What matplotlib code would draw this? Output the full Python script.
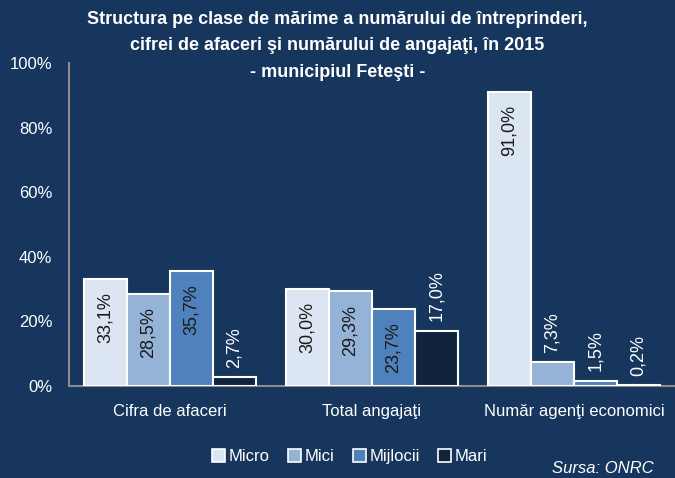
import matplotlib.pyplot as plt
import numpy as np
from matplotlib.patches import Patch

categories = ["Cifra de afaceri", "Total angajaţi", "Număr agenţi economici"]
series = ["Micro", "Mici", "Mijlocii", "Mari"]
micro = [33.1, 30.0, 91.0]
mici = [28.5, 29.3, 7.3]
mijlocii = [35.7, 23.7, 1.5]
mari = [2.7, 17.0, 0.2]
yticks = [0, 20, 40, 60, 80, 100]

values = [micro, mici, mijlocii, mari]
colors = ["#dce6f2", "#95b3d7", "#4f81bd", "#10243e"]
bg = "#17365d"
axis_grey = "#8c8c8c"
font = "Liberation Sans"

fig = plt.figure(figsize=(6.75, 4.78), dpi=100, facecolor=bg)
ax = fig.add_axes([69 / 675, 92 / 478, 606 / 675, 323 / 478], facecolor=bg)

x = np.arange(len(categories))
width = 0.213
for i, (vals, color) in enumerate(zip(values, colors)):
    xs = x + (i - 1.5) * width
    ax.bar(xs, vals, width, color=color, edgecolor="white", linewidth=1.5,
           zorder=3)
    for xi, v in zip(xs, vals):
        txt = f"{v:.1f}%".replace(".", ",")
        if v > 20:
            # big bars: label inside near the top, dark text
            ax.annotate(txt, (xi, v), xytext=(0, -9.5), textcoords="offset points",
                        rotation=90, ha="center", va="top", color="#1a1a1a",
                        fontsize=13, family=font, zorder=4)
        else:
            ax.annotate(txt, (xi, v), xytext=(0, 7), textcoords="offset points",
                        rotation=90, ha="center", va="bottom", color="white",
                        fontsize=13, family=font, zorder=4)

ax.set_xlim(-0.5, 2.5)
ax.set_ylim(0, 100)
ax.set_yticks(yticks)
ax.set_yticklabels([f"{t}%" for t in yticks], color="white", fontsize=12,
                   family=font)
ax.set_xticks(x)
ax.set_xticklabels(categories, color="white", fontsize=12, family=font)
ax.tick_params(axis="x", length=0, pad=13)
ax.tick_params(axis="y", length=0, pad=12)
for side in ["top", "right"]:
    ax.spines[side].set_visible(False)
for side in ["left", "bottom"]:
    ax.spines[side].set_color(axis_grey)
    ax.spines[side].set_linewidth(1.5)

fig.text(0.5, 0.978, "Structura pe clase de mărime a numărului de întreprinderi,\n"
         "cifrei de afaceri şi numărului de angajaţi, în 2015\n"
         "- municipiul Feteşti -",
         ha="center", va="top", color="white", fontsize=13, fontweight="bold",
         family=font, linespacing=1.75)

handles = [Patch(facecolor=c, edgecolor="white", linewidth=1.2) for c in colors]
fig.legend(handles, series, loc="center", bbox_to_anchor=(0.518, 0.045),
           ncol=4, frameon=False, handlelength=0.8,
           handleheight=0.8, handletextpad=0.2, columnspacing=1.1,
           labelcolor="white", prop={"family": font, "size": 12})

fig.text(0.968, 0.005, "Sursa: ONRC", ha="right", va="bottom", color="white",
         fontsize=12, style="italic", family=font)

fig.savefig("out.png", dpi=100, facecolor=bg)
